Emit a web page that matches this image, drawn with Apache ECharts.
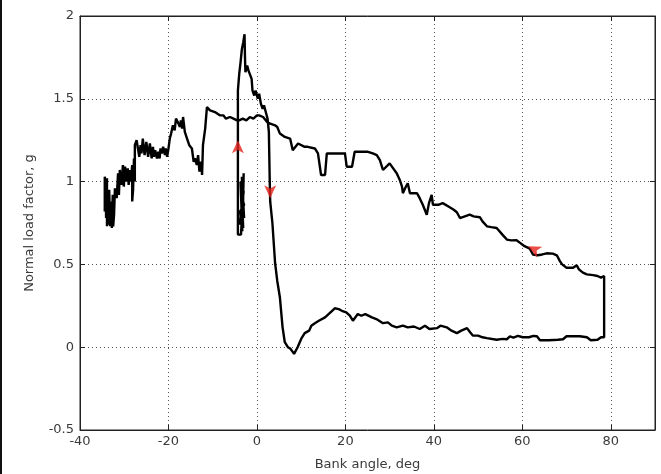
<!DOCTYPE html>
<html>
<head>
  <meta charset="utf-8">
  <title>Normal load factor vs bank angle</title>
  <script src="https://cdn.jsdelivr.net/npm/echarts@6/dist/echarts.min.js"></script>
  <style>
    html, body {
      margin: 0;
      padding: 0;
      background: #fff;
    }
    #chart {
      width: 661px;
      height: 474px;
    }
  </style>
</head>
<body>
<div id="chart"></div>
<script>
  // trajectory, [bank angle deg, load factor g], in time order
  var startBlock = [
    [-3.0, 1.05], [-3.2, 0.76], [-3.4, 1.03], [-2.9, 0.78], [-3.5, 0.98], [-3.1, 0.72],
    [-3.6, 0.92], [-2.9, 0.86], [-3.8, 0.82], [-3.3, 0.70], [-3.7, 1.00], [-3.0, 0.94],
    [-3.9, 0.74], [-3.2, 0.88], [-3.6, 0.68], [-4.3, 0.68]
  ]
  var spike = [
    [-4.3, 1.55], [-4.0, 1.65], [-3.7, 1.72], [-3.4, 1.80], [-3.1, 1.84], [-2.8, 1.89],
    [-2.7, 1.75], [-2.6, 1.66], [-2.2, 1.70], [-1.9, 1.67], [-1.6, 1.68], [-1.2, 1.62],
    [-1.0, 1.55], [-0.6, 1.52], [-0.3, 1.55], [0.2, 1.50], [0.5, 1.53], [0.9, 1.47],
    [1.3, 1.44], [1.6, 1.46], [2.0, 1.42], [2.4, 1.38], [2.7, 1.30]
  ]
  var descent = [
    [2.9, 1.00], [3.0, 0.88], [3.5, 0.75], [4.1, 0.51], [4.6, 0.40], [5.2, 0.30],
    [5.8, 0.12], [6.3, 0.03], [7.0, 0.00], [7.6, -0.01], [8.4, -0.04], [9.2, 0.00],
    [10.0, 0.05], [10.8, 0.085], [11.8, 0.10], [12.3, 0.13], [13.1, 0.145], [14.0, 0.16],
    [15.4, 0.18], [16.2, 0.20], [17.0, 0.22], [17.6, 0.235]
  ]
  var lowerBranch = [
    [18.5, 0.23], [19.2, 0.22], [20.2, 0.21], [21.0, 0.19], [21.7, 0.16], [22.1, 0.15],
    [22.8, 0.20], [23.6, 0.19], [24.5, 0.20], [26.0, 0.18], [27.0, 0.17], [28.5, 0.145],
    [29.6, 0.15], [30.5, 0.13], [31.6, 0.12], [33.0, 0.13], [34.1, 0.12], [35.5, 0.125],
    [36.8, 0.11], [38.0, 0.13], [39.0, 0.11], [40.7, 0.115], [41.5, 0.13], [42.9, 0.12],
    [44.0, 0.10], [45.2, 0.085], [46.2, 0.10], [47.5, 0.115], [48.2, 0.09], [48.8, 0.07],
    [50.0, 0.07], [51.0, 0.06], [52.0, 0.055], [54.2, 0.045], [55.5, 0.05], [56.5, 0.048],
    [57.2, 0.065], [58.0, 0.058], [59.0, 0.068], [60.1, 0.06], [61.5, 0.06], [62.5, 0.068],
    [63.3, 0.066], [64.0, 0.042], [66.0, 0.042], [68.0, 0.045], [69.2, 0.048], [70.0, 0.066],
    [71.4, 0.066], [73.0, 0.066], [74.6, 0.06], [75.5, 0.042], [77.0, 0.045], [77.8, 0.06],
    [78.5, 0.06]
  ]
  var upperBranch = [
    [78.5, 0.43], [77.8, 0.42], [77.0, 0.43], [76.0, 0.435], [74.6, 0.44], [73.7, 0.45],
    [72.8, 0.47], [72.3, 0.495], [71.5, 0.48], [70.0, 0.48], [69.0, 0.50], [68.5, 0.52],
    [67.8, 0.555], [66.9, 0.565], [65.5, 0.567], [64.5, 0.56], [63.5, 0.555], [62.4, 0.56],
    [61.7, 0.595], [60.5, 0.61], [59.5, 0.63], [58.7, 0.646], [57.5, 0.645], [56.5, 0.65],
    [55.5, 0.68], [54.2, 0.72], [53.0, 0.725], [52.0, 0.73], [51.0, 0.76], [50.4, 0.785],
    [49.0, 0.79], [48.1, 0.80], [47.0, 0.79], [45.9, 0.78], [45.2, 0.815], [44.5, 0.83],
    [43.6, 0.845], [42.0, 0.87], [41.0, 0.86], [39.8, 0.86], [39.5, 0.92], [38.9, 0.87],
    [38.4, 0.80], [37.5, 0.86], [36.8, 0.90], [36.2, 0.93], [35.3, 0.93], [34.6, 0.93],
    [34.1, 0.99], [33.5, 0.96], [33.0, 0.93], [32.8, 0.97], [32.3, 1.01], [31.6, 1.05],
    [31.2, 1.05], [30.0, 1.11], [29.6, 1.10], [28.5, 1.07], [28.2, 1.08], [27.8, 1.13],
    [27.1, 1.16], [26.2, 1.17], [25.1, 1.18], [24.0, 1.18], [22.1, 1.18], [21.5, 1.09],
    [20.3, 1.09], [19.9, 1.17], [18.0, 1.17], [15.8, 1.17], [15.4, 1.04], [14.5, 1.04],
    [13.8, 1.17], [13.1, 1.20], [11.5, 1.21], [10.8, 1.21], [9.3, 1.23], [8.1, 1.19],
    [7.5, 1.26], [6.3, 1.27], [5.2, 1.29], [4.6, 1.33], [4.1, 1.34], [3.0, 1.35],
    [2.3, 1.36], [1.4, 1.39], [0.5, 1.40], [0.0, 1.40], [-0.8, 1.38], [-1.6, 1.39],
    [-2.4, 1.37], [-3.2, 1.38], [-4.0, 1.37], [-4.5, 1.37], [-5.3, 1.38], [-6.1, 1.39],
    [-7.0, 1.38], [-7.6, 1.40], [-8.4, 1.40], [-9.5, 1.42], [-10.6, 1.43], [-11.3, 1.45]
  ]
  var leftTail = [
    [-11.7, 1.32], [-12.2, 1.22], [-12.4, 1.04], [-12.6, 1.12], [-13.0, 1.06], [-13.3, 1.16],
    [-13.6, 1.10], [-14.0, 1.14], [-14.3, 1.12], [-14.7, 1.20], [-15.3, 1.22], [-15.8, 1.26],
    [-16.3, 1.30], [-16.7, 1.39], [-16.9, 1.32], [-17.2, 1.37], [-17.4, 1.33], [-17.9, 1.36],
    [-18.3, 1.38], [-18.6, 1.31], [-19.0, 1.34], [-19.4, 1.29], [-19.7, 1.26], [-20.0, 1.20],
    [-20.3, 1.15], [-20.6, 1.20], [-20.8, 1.16], [-21.2, 1.21], [-21.5, 1.17], [-21.8, 1.20],
    [-22.0, 1.14], [-22.3, 1.18], [-22.6, 1.14], [-23.0, 1.19], [-23.3, 1.15], [-23.5, 1.21],
    [-23.8, 1.14], [-24.2, 1.23], [-24.6, 1.15], [-25.0, 1.24], [-25.4, 1.16], [-25.8, 1.26],
    [-26.1, 1.17], [-26.3, 1.22], [-26.6, 1.15], [-26.9, 1.20], [-27.2, 1.25], [-27.6, 1.22],
    [-27.6, 1.00], [-27.8, 1.14], [-28.0, 0.95], [-28.2, 0.88], [-28.2, 1.10], [-28.5, 1.00],
    [-28.7, 1.07], [-29.0, 0.98], [-29.2, 1.08], [-29.5, 1.00], [-29.8, 1.09], [-30.1, 0.97],
    [-30.3, 1.10], [-30.6, 0.98], [-31.0, 1.07], [-31.2, 0.92], [-31.4, 1.05], [-31.7, 0.90],
    [-32.1, 0.96], [-32.3, 0.80], [-32.5, 0.73], [-32.6, 0.92], [-32.8, 0.72], [-33.0, 0.88],
    [-33.2, 0.73], [-33.4, 0.95], [-33.5, 0.74], [-33.7, 0.92], [-33.9, 0.73], [-33.9, 1.02],
    [-34.1, 0.78], [-34.2, 0.98], [-34.4, 1.03], [-34.4, 0.82]
  ]
  // red arrowheads: position and direction (deg, counter-clockwise from up)
  var arrowPoints = [[-4.3, 1.25], [3.0, 0.90], [61.3, 0.61]]
  var arrowTurns = [0, 180, 63]

  var xTicks = {min: -40, max: 90, step: 20}
  var yTicks = {min: -0.5, max: 2, step: 0.5}

  var trajectory = [].concat(startBlock, spike, descent, lowerBranch, upperBranch, leftTail)

  var arrowData = arrowPoints.map(function (p, i) {
    return {value: p, symbolRotate: arrowTurns[i]}
  })

  var frameColor = '#222'
  var textColor = '#3a3a3a'
  var font = 'DejaVu Sans'
  var gridLine = {show: true, lineStyle: {type: [1, 3], color: '#555', width: 1}}
  var innerTick = {show: true, inside: true, length: 5, lineStyle: {color: frameColor}}
  var solidLine = {show: true, onZero: false, lineStyle: {color: frameColor, width: 1}}

  var chart = echarts.init(document.getElementById('chart'))

  chart.setOption({
    animation: false,
    backgroundColor: '#fff',
    grid: {
      left: 80,
      right: 6,
      top: 16,
      bottom: 44,
      outerBoundsMode: 'none', // keep the plot box where it is, v6 would shrink it otherwise
      show: true,
      borderColor: frameColor,
      borderWidth: 1
    },
    graphic: [{type: 'rect', shape: {x: 0, y: 0, width: 2, height: 474}, style: {fill: '#111'}, silent: true}],
    xAxis: [
      {
        type: 'value',
        min: xTicks.min,
        max: xTicks.max,
        interval: xTicks.step,
        name: 'Bank angle, deg',
        nameLocation: 'middle',
        nameGap: 28,
        nameTextStyle: {color: textColor, fontSize: 13, fontFamily: font},
        axisLine: solidLine,
        axisTick: innerTick,
        axisLabel: {
          color: textColor,
          fontSize: 13,
          fontFamily: font,
          margin: 5,
          formatter: function (v) {
            return v === 90 ? '' : v
          }
        },
        splitLine: gridLine
      },
      {
        type: 'value',
        position: 'top',
        min: xTicks.min,
        max: xTicks.max,
        interval: xTicks.step,
        axisLine: solidLine,
        axisTick: innerTick,
        axisLabel: {show: false},
        splitLine: {show: false}
      }
    ],
    yAxis: [
      {
        type: 'value',
        min: yTicks.min,
        max: yTicks.max,
        interval: yTicks.step,
        name: 'Normal load factor, g',
        nameLocation: 'middle',
        nameGap: 44,
        nameRotate: 90,
        nameTextStyle: {color: textColor, fontSize: 13, fontFamily: font},
        axisLine: solidLine,
        axisTick: innerTick,
        axisLabel: {color: textColor, fontSize: 13, fontFamily: font, margin: 6},
        splitLine: gridLine
      },
      {
        type: 'value',
        position: 'right',
        min: yTicks.min,
        max: yTicks.max,
        interval: yTicks.step,
        axisLine: solidLine,
        axisTick: innerTick,
        axisLabel: {show: false},
        splitLine: {show: false}
      }
    ],
    series: [
      {
        name: 'trajectory',
        type: 'line',
        data: trajectory,
        showSymbol: false,
        symbol: 'none',
        lineStyle: {color: '#000', width: 2.4},
        z: 3
      },
      {
        name: 'direction',
        type: 'scatter',
        data: arrowData,
        symbol: 'arrow',
        symbolSize: [9, 13],
        itemStyle: {color: '#e3221c'},
        z: 4
      }
    ]
  })
</script>
</body>
</html>
